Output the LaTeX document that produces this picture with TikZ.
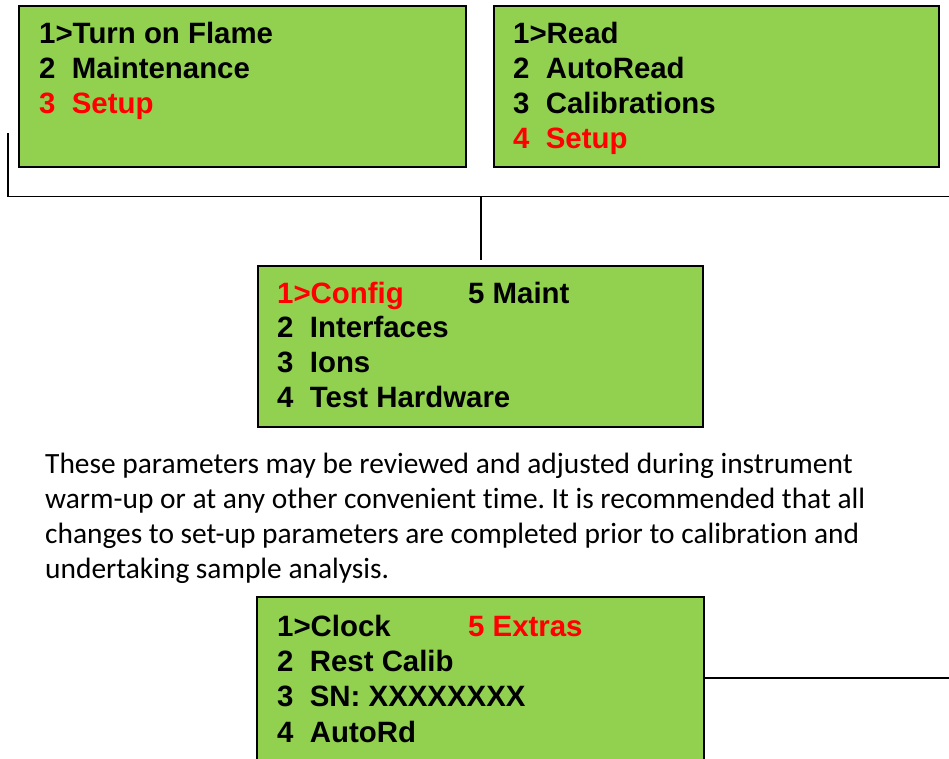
\documentclass[tikz,border=0pt]{standalone}
\usepackage{fontspec}
\setmainfont{Liberation Sans}
\newfontfamily\calib[Ligatures={NoCommon,NoRequired,NoContextual}]{Carlito}
\definecolor{lcd}{HTML}{92D050}
\definecolor{sel}{HTML}{FF0000}
\frenchspacing
\begin{document}
\begin{tikzpicture}[x=1pt,y=-1pt,
  box/.style={draw=black,line width=2pt,fill=lcd,rectangle,inner sep=0pt,anchor=north west},
  lcdtxt/.style={anchor=base west,inner sep=0pt,font=\fontsize{29.4}{34}\selectfont\bfseries},
  red/.style={text=sel},
  para/.style={anchor=base west,inner sep=0pt,font=\calib\fontsize{29.4}{35}\selectfont},
  link/.style={draw=black,line width=2pt}]
\useasboundingbox (0,0) rectangle (949,758);
% boxes
\node[box,minimum width=447,minimum height=161] (b1) at (18,5) {};
\node[box,minimum width=445,minimum height=161] (b2) at (493,5) {};
\node[box,minimum width=445,minimum height=161] (b3) at (257,265) {};
\node[box,draw=none,minimum width=445,minimum height=163] (b4) at (257,597) {};
\draw[line width=2pt] (b4.south west) -- (b4.north west) -- (b4.north east) -- (b4.south east);
% box 1 text
\node[lcdtxt] (t11) at (39,43) {1>Turn on Flame};
\node[lcdtxt] (t12) at (39,78) {2\ \ Maintenance};
\node[lcdtxt,red] (t13) at (39,113) {3\ \ Setup};
% box 2 text
\node[lcdtxt] (t21) at (513,43) {1>Read};
\node[lcdtxt] (t22) at (513,78) {2\ \ AutoRead};
\node[lcdtxt] (t23) at (513,113) {3\ \ Calibrations};
\node[lcdtxt,red] (t24) at (513,148) {4\ \ Setup};
% box 3 text
\node[lcdtxt,red] (t31) at (277,303) {1>Config};
\node[lcdtxt] (t35) at (468,303) {5 Maint};
\node[lcdtxt] (t32) at (277,337.5) {2\ \ Interfaces};
\node[lcdtxt] (t33) at (277,372.5) {3\ \ Ions};
\node[lcdtxt] (t34) at (277,407) {4\ \ Test Hardware};
% box 4 text
\node[lcdtxt] (t41) at (277,636) {1>Clock};
\node[lcdtxt,red] (t45) at (468,636) {5 Extras};
\node[lcdtxt] (t42) at (277,671) {2\ \ Rest Calib};
\node[lcdtxt] (t43) at (277,706.5) {3\ \ SN: XXXXXXXX};
\node[lcdtxt] (t44) at (277,742) {4\ \ AutoRd};
% paragraph
\node[para] (p1) at (45,473) {These parameters may be reviewed and adjusted during instrument};
\node[para] (p2) at (45,508) {warm-up or at any other convenient time. It is recommended that all};
\node[para] (p3) at (45,543) {changes to set-up parameters are completed prior to calibration and};
\node[para] (p4) at (45,578) {undertaking sample analysis.};
% connectors
\coordinate (bl) at (8,133);
\coordinate (br) at (949,196.5);
\draw[line width=1.6pt] (bl) |- (br);
\draw[link] ([yshift=5pt]b3.north) -- (b3.north |- br);
\coordinate (rr) at (949,678);
\draw[line width=2.5pt] (rr -| b4.east) -- (rr);
\end{tikzpicture}
\end{document}
